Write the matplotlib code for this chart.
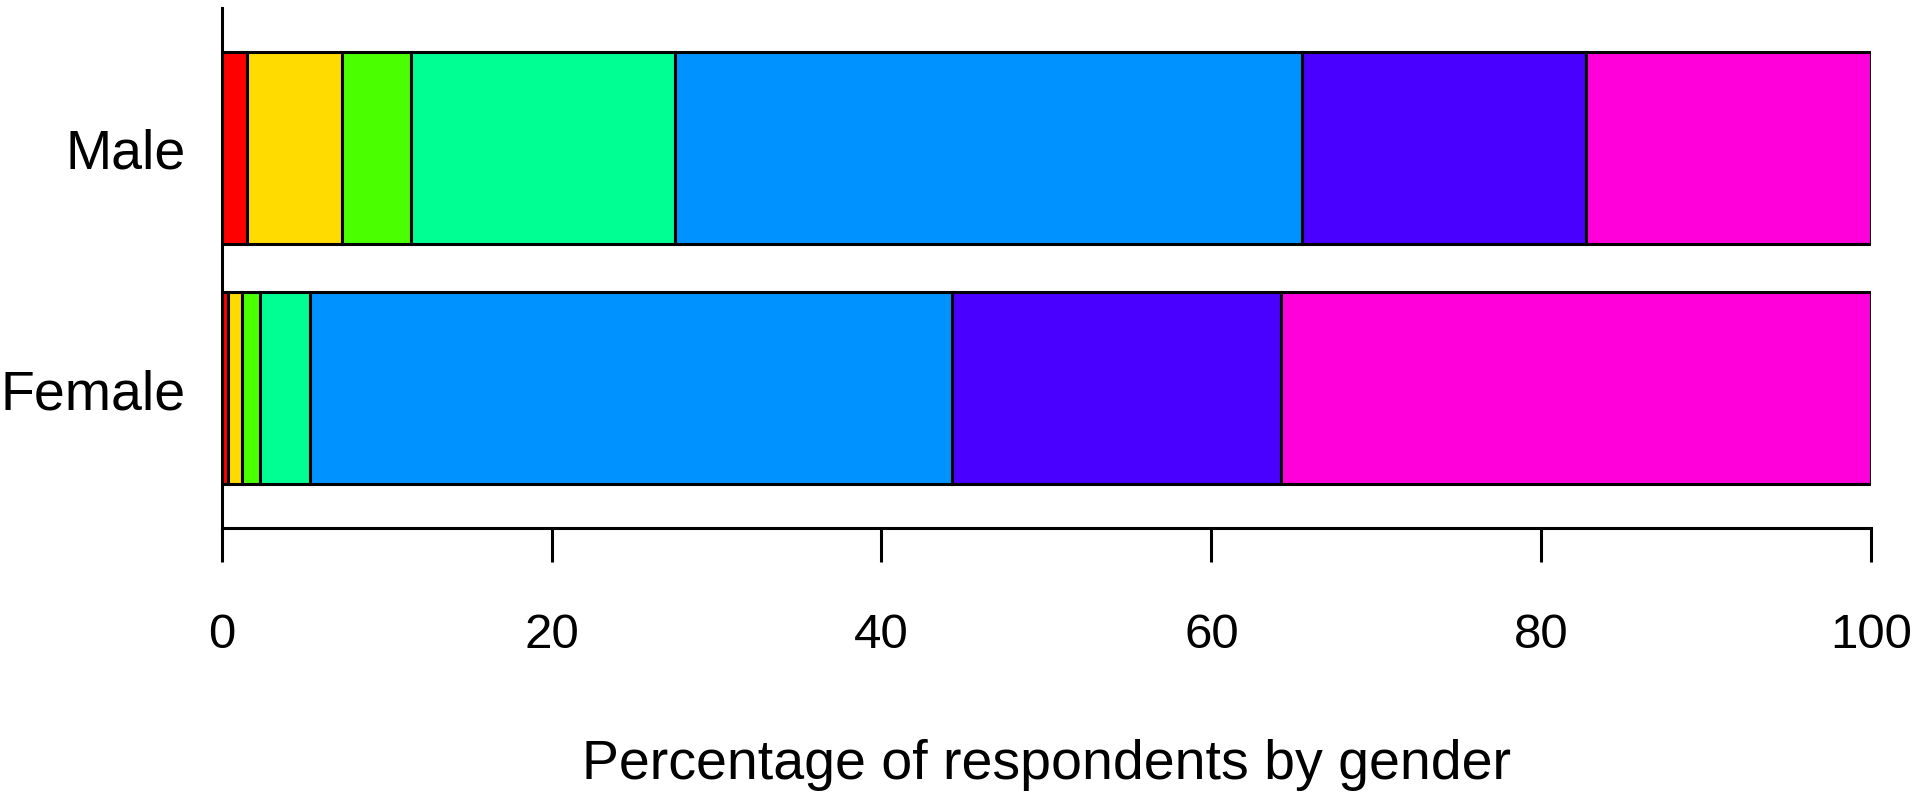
import matplotlib
matplotlib.use('Agg')
import matplotlib.pyplot as plt
import numpy as np

plt.rcParams['font.family'] = ['Liberation Sans', 'DejaVu Sans']

groups = ['Female', 'Male']
colors = ['#FF0000', '#FFDB00', '#49FF00', '#00FF92', '#0092FF', '#4900FF', '#FF00DB']
# percentage per category (7 categories)
female = [0.4, 0.8, 1.1, 3.05, 38.95, 19.9, 35.8]
male = [1.55, 5.75, 4.15, 16.05, 38.0, 17.2, 17.3]
ticks = [0, 20, 40, 60, 80, 100]

fig = plt.figure(figsize=(19.2, 8.03), dpi=100)
ax = fig.add_axes([0.1155, 0.3412, 0.859, 0.6476])

ypos = [0.7, 1.95]
data = np.array([female, male])
left = np.zeros(2)
for k in range(data.shape[1]):
    ax.barh(ypos, data[:, k], left=left, height=1.0, color=colors[k],
            edgecolor='black', linewidth=2.2)
    left += data[:, k]

ax.set_xlim(0, 100)
ax.set_ylim(-0.029, 2.679)
ax.spines['top'].set_visible(False)
ax.spines['right'].set_visible(False)
ax.spines['left'].set_linewidth(2.2)
ax.spines['bottom'].set_linewidth(2.2)
ax.set_xticks(ticks)
ax.set_xticklabels([str(t) for t in ticks])
ax.set_yticks(ypos)
ax.set_yticklabels(groups)
ax.tick_params(axis='x', length=24.5, width=2.2, pad=36, labelsize=35.5)
ax.tick_params(axis='y', length=0, pad=26, labelsize=40)
ax.set_xlabel('Percentage of respondents by gender', fontsize=40, labelpad=58)

fig.savefig('out.png', dpi=100)
